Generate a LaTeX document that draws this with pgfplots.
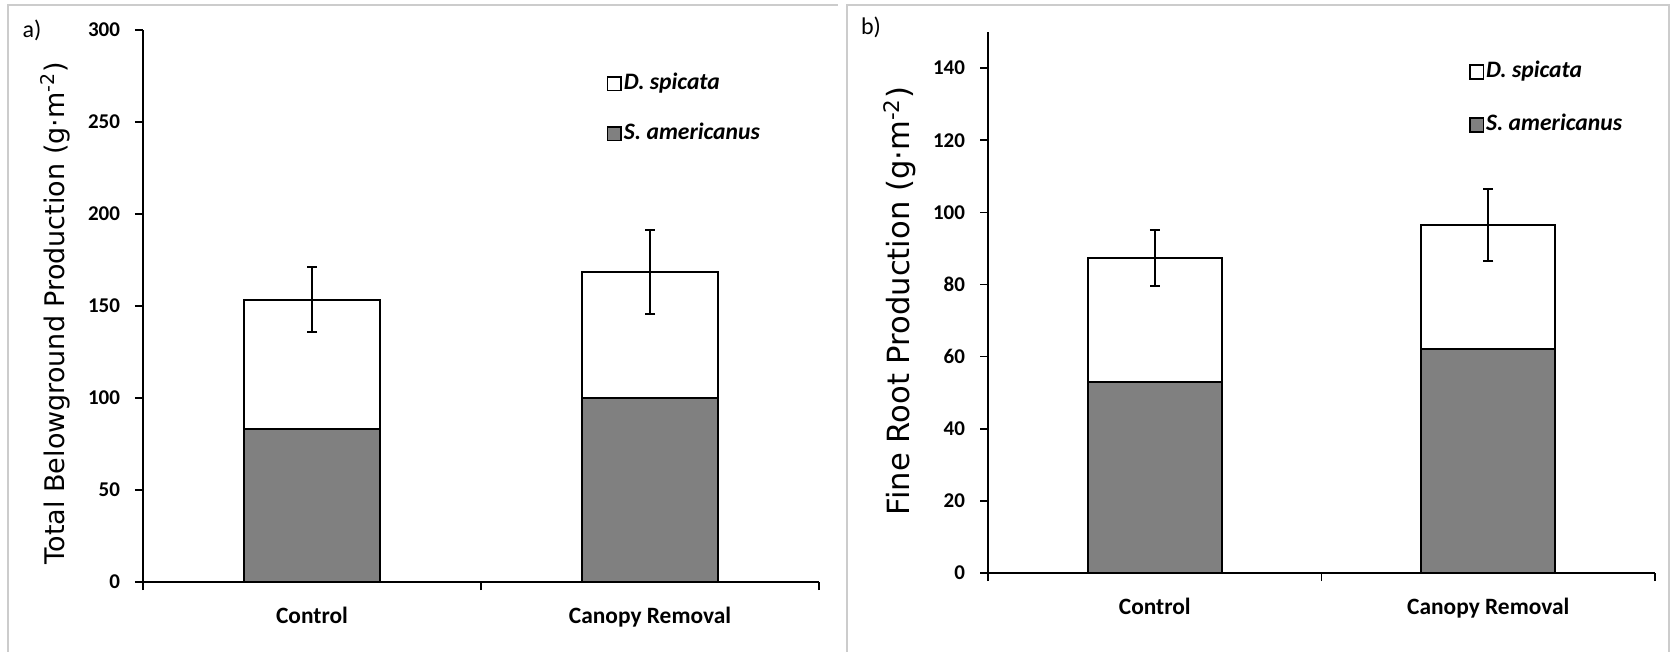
\documentclass[border=0pt]{standalone}
\usepackage{fontspec}
\setmainfont{Carlito}
\newfontfamily\labelfont{DejaVu Sans}
\usepackage{pgfplots}
\pgfplotsset{compat=1.18}
\definecolor{barg}{HTML}{808080}
\definecolor{frameg}{HTML}{CCCCCC}
\pgfplotsset{
  mybar/.style={
    scale only axis, ybar, bar shift=0pt,
    xmin=0.5, xmax=2.5, ymin=0,
    axis lines=left, axis line style={-, line width=1pt, black},
    xtick={0.5,1.5,2.5}, xticklabels={},
    extra x ticks={1,2},
    extra x tick labels={Control,Canopy Removal},
    extra x tick style={major tick length=0pt, tick style={draw=none},
      xticklabel style={font=\bfseries\fontsize{11.7}{14}\selectfont, yshift=-9pt}},
    tick align=outside, major tick length=4pt,
    tick style={black, line width=0.8pt},
    /pgf/number format/assume math mode=true,
    yticklabel style={font=\bfseries\fontsize{10.5}{12}\selectfont, xshift=-4pt},
    legend image code/.code={\draw[#1, line width=0.8pt] (0pt,-3.4pt) rectangle (6.8pt,3.4pt);},
    legend cell align=left,
    legend style={draw=none, fill=none, inner sep=0pt, outer sep=0pt,
      font=\bfseries\itshape\fontsize{11.8}{13}\selectfont,
      nodes={text height=8pt, text depth=2.5pt, inner sep=1pt},
      /tikz/every even column/.append style={column sep=1.8pt}},
    clip=false,
  },
  whitebar/.style={fill=white, draw=black, line width=1pt,
    error bars/.cd, y dir=both, y explicit,
    error bar style={line width=1pt, black},
    error mark options={rotate=90, mark size=2.5pt, line width=1pt, black}},
  graybar/.style={fill=barg, draw=black, line width=1pt},
}
\begin{document}
\begin{tikzpicture}
\useasboundingbox (0,0) rectangle (835.5pt,-326pt);
% panel frames
\draw[frameg, line width=0.6pt] (4pt,-326pt) -- (4pt,-2.5pt) -- (419pt,-2.5pt);
\draw[frameg, line width=0.6pt] (423.5pt,-326pt) -- (423.5pt,-2.5pt) -- (834.5pt,-2.5pt) -- (834.5pt,-326pt);
\node[font=\fontsize{12}{14}\selectfont, anchor=center] at (16pt,-15pt) {a)};
\node[font=\fontsize{12}{14}\selectfont, anchor=center] at (435.5pt,-13.5pt) {b)};
% panel a
\begin{axis}[mybar, at={(71.5pt,-291pt)}, anchor=south west,
  width=338pt, height=276pt, ymax=300, ytick={0,50,...,300},
  bar width=68pt,
  ylabel={Total Belowground Production (g·m\textsuperscript{-2})},
  ylabel style={font=\labelfont\fontsize{13.5}{16}\selectfont, at={(axis description cs:-0.130,0.487)}, anchor=center},
  legend style={at={(axis description cs:0.686,0.925)}, anchor=north west,
    /tikz/every odd row/.append style={row sep=12.5pt}},
]
\addplot[whitebar] coordinates {(1,153.5) +- (0,17.6) (2,168.5) +- (0,22.6)};
\addlegendentry{D. spicata}
\addplot[graybar] coordinates {(1,83) (2,100)};
\addlegendentry{S. americanus}
\end{axis}
% panel b
\begin{axis}[mybar, at={(494pt,-286.5pt)}, anchor=south west,
  width=333.5pt, height=270.5pt, ymax=150, ytick={0,20,...,140},
  bar width=67pt,
  ylabel={Fine Root Production (g·m\textsuperscript{-2})},
  ylabel style={font=\labelfont\fontsize{15.3}{18}\selectfont, at={(axis description cs:-0.132,0.503)}, anchor=center},
  legend style={at={(axis description cs:0.721,0.949)}, anchor=north west,
    /tikz/every odd row/.append style={row sep=14pt}},
]
\addplot[whitebar] coordinates {(1,87.4) +- (0,7.7) (2,96.5) +- (0,10.0)};
\addlegendentry{D. spicata}
\addplot[graybar] coordinates {(1,53) (2,62)};
\addlegendentry{S. americanus}
\end{axis}
\end{tikzpicture}
\end{document}
